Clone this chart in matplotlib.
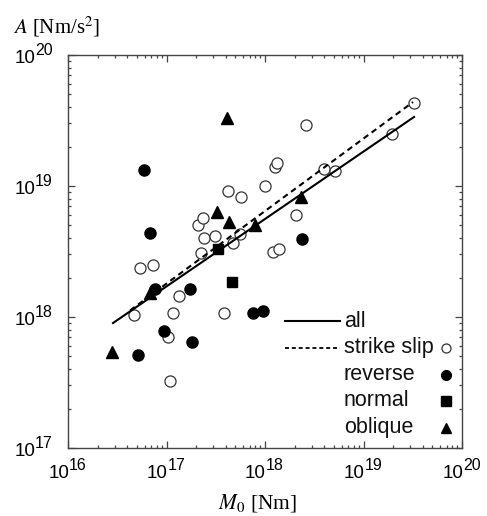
import numpy as np
import matplotlib
matplotlib.use("Agg")
import matplotlib.pyplot as plt
from matplotlib.ticker import LogLocator, NullFormatter

plt.rcParams['font.family'] = ['Liberation Sans', 'DejaVu Sans']
plt.rcParams['mathtext.fontset'] = 'stix'

# ---- data (log10 values) ----
strike_logM0 = [16.670, 16.731, 16.863, 17.015, 17.066, 17.127, 17.036, 17.350, 17.381, 17.492,
                17.320, 17.371, 17.624, 17.756, 17.746, 17.675, 17.584, 18.000, 18.102, 18.122,
                18.081, 18.142, 18.315, 18.416, 18.599, 18.711, 19.289, 19.513]
strike_logA = [18.015, 18.374, 18.397, 17.847, 18.031, 18.160, 17.511, 18.489, 18.603, 18.618,
               18.702, 18.756, 18.962, 18.916, 18.634, 18.565, 18.031, 19.000, 19.145, 19.176,
               18.496, 18.519, 18.779, 19.466, 19.130, 19.115, 19.397, 19.634]

reverse_logM0 = [16.772, 16.832, 16.883, 17.239, 16.975, 17.259, 16.711, 17.878, 17.980, 18.376]
reverse_logA = [19.122, 18.641, 18.214, 18.214, 17.893, 17.809, 17.710, 18.031, 18.046, 18.595]

normal_logM0 = [17.523, 17.665]
normal_logA = [18.519, 18.267]

oblique_logM0 = [16.447, 16.832, 17.513, 17.635, 17.898, 17.614, 18.365]
oblique_logA = [17.733, 18.183, 18.802, 18.725, 18.702, 19.519, 18.916]

# fit lines (end points, log10)
all_fit_logM0 = [16.457, 19.513]
all_fit_logA = [17.954, 19.527]
ss_fit_logM0 = [16.63, 19.503]
ss_fit_logA = [18.050, 19.641]

x_exponents = [16, 17, 18, 19, 20]
y_exponents = [17, 18, 19, 20]

legend_labels = ['all', 'strike slip', 'reverse', 'normal', 'oblique']

p = lambda v: 10 ** np.asarray(v, dtype=float)

fig = plt.figure(figsize=(4.87, 5.16), dpi=100)
ax = fig.add_axes([68/487, 1-448/516, 394/487, 393/516])
ax.set_xscale('log')
ax.set_yscale('log')
ax.set_xlim(1e16, 1e20)
ax.set_ylim(1e17, 1e20)

ms = 8
ax.plot(p(strike_logM0), p(strike_logA), 'o', ms=ms, mfc='white', mec='#333333', mew=0.9, ls='none', zorder=3)
ax.plot(p(reverse_logM0), p(reverse_logA), 'o', ms=ms, mfc='black', mec='black', ls='none', zorder=3)
ax.plot(p(normal_logM0), p(normal_logA), 's', ms=7.5, mfc='black', mec='black', ls='none', zorder=3)
ax.plot(p(oblique_logM0), p(oblique_logA), '^', ms=8, mfc='black', mec='black', ls='none', zorder=3)

ax.plot(p(all_fit_logM0), p(all_fit_logA), '-', color='black', lw=1.5, zorder=4)
ax.plot(p(ss_fit_logM0), p(ss_fit_logA), '--', color='black', lw=1.5, dashes=(2.8, 2.0), zorder=4)

# ticks
spine_c = '#444444'
for s in ax.spines.values():
    s.set_color(spine_c)
    s.set_linewidth(1.0)
ax.set_xticks(p(x_exponents))
ax.set_yticks(p(y_exponents))
ax.xaxis.set_minor_locator(LogLocator(base=10, subs=np.arange(2, 10), numticks=20))
ax.yaxis.set_minor_locator(LogLocator(base=10, subs=np.arange(2, 10), numticks=20))
ax.xaxis.set_minor_formatter(NullFormatter())
ax.yaxis.set_minor_formatter(NullFormatter())
ax.tick_params(which='both', direction='in', top=True, right=True, color=spine_c, width=0.9,
               labelbottom=False, labelleft=False)
ax.tick_params(which='major', length=5)
ax.tick_params(which='minor', length=2.5)

# tick labels: "10" plus a large superscript exponent
k = 0.72  # px -> pt
fs_base, fs_sup = 13.5, 11.5
for e in x_exponents:
    ax.annotate('10', xy=(10.0**e, 0), xycoords=('data', 'axes fraction'),
                xytext=(1.0*k, -30*k), textcoords='offset points',
                ha='right', va='baseline', fontsize=fs_base, annotation_clip=False)
    ax.annotate(str(e), xy=(10.0**e, 0), xycoords=('data', 'axes fraction'),
                xytext=(1.0*k, -22*k), textcoords='offset points',
                ha='left', va='baseline', fontsize=fs_sup, annotation_clip=False)
for e in y_exponents:
    ax.annotate('10', xy=(0, 10.0**e), xycoords=('axes fraction', 'data'),
                xytext=(-33*k, -8*k), textcoords='offset points',
                ha='right', va='baseline', fontsize=fs_base, annotation_clip=False)
    ax.annotate(str(e), xy=(0, 10.0**e), xycoords=('axes fraction', 'data'),
                xytext=(-15*k, 0), textcoords='offset points',
                ha='right', va='baseline', fontsize=fs_sup, annotation_clip=False)

# legend (manual layout in axes fraction)
tx = 0.70
rows = [0.323, 0.255, 0.186, 0.120, 0.052]
lx0, lx1 = 0.551, 0.690
mx = 0.959
fs_leg = 15.5
for lab, ry in zip(legend_labels, rows):
    ax.text(tx, ry, lab, transform=ax.transAxes, fontsize=fs_leg, va='center', ha='left', color='#111111')
ax.plot([lx0, lx1], [rows[0], rows[0]], '-', color='black', lw=1.5, transform=ax.transAxes, clip_on=False)
ax.plot([lx0, lx1], [rows[1], rows[1]], '--', color='black', lw=1.3, dashes=(2.2, 1.6), transform=ax.transAxes, clip_on=False)
ax.plot([mx], [rows[1]], 'o', ms=6.5, mfc='white', mec='#333333', mew=0.9, transform=ax.transAxes, clip_on=False)
ax.plot([mx], [rows[2]], 'o', ms=7, mfc='black', mec='black', transform=ax.transAxes, clip_on=False)
ax.plot([mx], [rows[3]], 's', ms=6.5, mfc='black', mec='black', transform=ax.transAxes, clip_on=False)
ax.plot([mx], [rows[4]], '^', ms=7, mfc='black', mec='black', transform=ax.transAxes, clip_on=False)

# axis labels
fig.text(13/487, 1-33/516, r'$A$ [Nm/s$^2$]', fontsize=15, family='Liberation Serif', ha='left', va='baseline')
fig.text(258/487, 1-508/516, r'$M_0$ [Nm]', fontsize=15.5, family='Liberation Serif', ha='center', va='baseline')

fig.savefig('out.png', dpi=100)
